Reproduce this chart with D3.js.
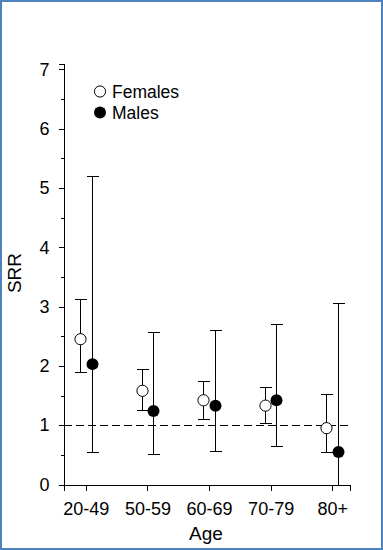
<!DOCTYPE html>
<html>
<head>
<meta charset="utf-8">
<script src="https://cdn.jsdelivr.net/npm/d3@7"></script>
<style>
  html, body { margin: 0; padding: 0; background: #fff; }
  svg { display: block; }
  text { font-family: "Liberation Sans", Arial, sans-serif; fill: #000; }
  line, path.domain { shape-rendering: crispEdges; }
</style>
</head>
<body>
<svg id="chart" width="383" height="550"></svg>
<script>
// ---- data ----
const categories = ["20-49", "50-59", "60-69", "70-79", "80+"];
const femaleSRR   = [2.45, 1.58, 1.42, 1.33, 0.95];
const femaleLower = [1.89, 1.26, 1.10, 1.04, 0.55];
const femaleUpper = [3.13, 1.95, 1.75, 1.64, 1.52];
const maleSRR     = [2.03, 1.24, 1.33, 1.42, 0.55];
const maleLower   = [0.55, 0.51, 0.56, 0.65, 0.00];
const maleUpper   = [5.20, 2.57, 2.61, 2.70, 3.06];
const yTicks = [0, 1, 2, 3, 4, 5, 6, 7];
const yMinorTicks = [0.5, 1.5, 2.5, 3.5, 4.5, 5.5, 6.5];
const refValue = 1;
const legendLabels = ["Females", "Males"];

const svg = d3.select("#chart");

// border
svg.append("rect")
  .attr("x", 1).attr("y", 1).attr("width", 381).attr("height", 548)
  .attr("fill", "none").attr("stroke", "#4f81bd").attr("stroke-width", 2);

const x = d3.scaleLinear().domain([0.638, 5.28]).range([63.5, 349.5]);
const y = d3.scaleLinear().domain([0, 7.1]).range([484.5, 63.5]);
const pos = i => x(i + 1);
const off = 5.8;

const g = svg.append("g");

// y axis
const yAxis = g.append("g").attr("transform", `translate(${x.range()[0]},0)`)
  .call(d3.axisLeft(y).tickValues(yTicks).tickSize(5).tickPadding(9).tickFormat(d3.format("d")));
yAxis.selectAll("text").style("font-size", "18px");
g.append("g").attr("transform", `translate(${x.range()[0]},0)`)
  .call(d3.axisLeft(y).tickValues(yMinorTicks).tickSize(3).tickFormat(""))
  .select(".domain").remove();

// x axis
const xAxis = g.append("g").attr("transform", `translate(0,${y(0)})`)
  .call(d3.axisBottom(x).tickValues(categories.map((c, i) => i + 1))
    .tickSize(6).tickPadding(12).tickFormat((d, i) => categories[i]));
xAxis.selectAll("text").style("font-size", "18px");
g.selectAll(".domain").attr("stroke", "#000");
g.selectAll(".tick line").attr("stroke", "#000");

// reference dashed line
g.append("line")
  .attr("x1", x.range()[0]).attr("x2", x.range()[1])
  .attr("y1", y(refValue)).attr("y2", y(refValue))
  .attr("stroke", "#000").attr("stroke-width", 1).attr("stroke-dasharray", "8,4");

// error bars
function drawBars(lower, upper, dx) {
  categories.forEach((c, i) => {
    const cx = Math.round(pos(i) + dx) + 0.5;
    g.append("line").attr("x1", cx).attr("x2", cx)
      .attr("y1", y(lower[i])).attr("y2", y(upper[i]))
      .attr("stroke", "#000").attr("stroke-width", 1);
    [upper[i], lower[i]].forEach(v => {
      if (v <= 0) return;
      const yy = Math.round(y(v)) + 0.5;
      g.append("line").attr("x1", cx - 6).attr("x2", cx + 6)
        .attr("y1", yy).attr("y2", yy)
        .attr("stroke", "#000").attr("stroke-width", 1);
    });
  });
}
drawBars(femaleLower, femaleUpper, -off);
drawBars(maleLower, maleUpper, off);

// markers
g.selectAll(".fem").data(femaleSRR).enter().append("circle")
  .attr("cx", (d, i) => Math.round(pos(i) - off) + 0.5).attr("cy", d => y(d)).attr("r", 5.6)
  .attr("fill", "#fff").attr("stroke", "#000").attr("stroke-width", 1);
g.selectAll(".mal").data(maleSRR).enter().append("circle")
  .attr("cx", (d, i) => Math.round(pos(i) + off) + 0.5).attr("cy", d => y(d)).attr("r", 6)
  .attr("fill", "#000");

// axis titles
svg.append("text").attr("x", 206).attr("y", 540).attr("text-anchor", "middle")
  .style("font-size", "19px").text("Age");
svg.append("text").attr("transform", "translate(21,273) rotate(-90)")
  .attr("text-anchor", "middle").style("font-size", "19px").text("SRR");

// legend
const leg = svg.append("g");
legendLabels.forEach((lab, i) => {
  const ly = 91.5 + i * 21;
  leg.append("circle").attr("cx", 100).attr("cy", ly).attr("r", i === 0 ? 5.6 : 6)
    .attr("fill", i === 0 ? "#fff" : "#000").attr("stroke", "#000").attr("stroke-width", i === 0 ? 1 : 0);
  leg.append("text").attr("x", 112).attr("y", ly + 6).style("font-size", "17.5px").text(lab);
});
</script>
</body>
</html>
